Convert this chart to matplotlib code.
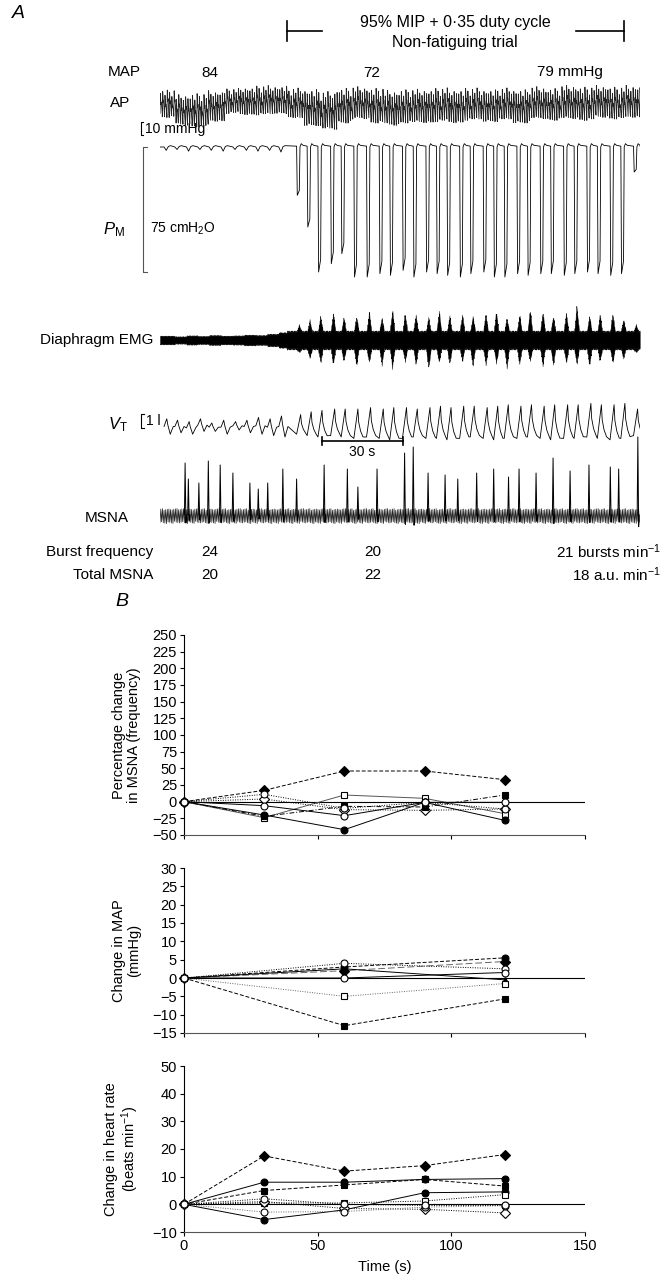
import numpy as np
import matplotlib
matplotlib.use('Agg')
import matplotlib.pyplot as plt
from matplotlib.transforms import blended_transform_factory

plt.rcParams['font.family'] = ['Liberation Sans', 'DejaVu Sans']
plt.rcParams['mathtext.fontset'] = 'custom'
plt.rcParams['mathtext.rm'] = 'Liberation Sans'
plt.rcParams['mathtext.it'] = 'Liberation Sans:italic'

W, H = 665, 1277

# ---------------- A: recording (time in s) ----------------
T_END = 177.8
TRIAL_ON, TRIAL_OFF = 47.0, 172.0

# arterial pressure, upper / lower edge per ~6 s segment (mmHg)
ap_sys = [96, 92, 93, 95, 97, 98, 99, 99, 97, 96, 94, 97, 98, 97, 95,
          96, 96, 97, 96, 97, 96, 97, 96, 98, 97, 99, 98, 99, 98, 99]
ap_dia = [77, 71, 70, 74, 80, 79, 79, 80, 76, 71, 68, 73, 76, 73, 71,
          73, 73, 74, 73, 75, 74, 75, 73, 76, 75, 76, 75, 77, 76, 77]

# breath onsets (s)
pre_on = [1.5, 5.5, 9.8, 14.0, 18.2, 22.6, 27.0, 31.2, 35.5, 39.8, 44.0]
trial_on = [50.6, 54.5, 58.5, 63.2, 67.1, 71.8, 76.5, 81.2, 85.1, 89.8,
            93.8, 98.5, 102.4, 106.3, 111.0, 114.9, 119.7, 123.6, 127.5, 132.2,
            136.1, 140.8, 144.7, 149.5, 153.4, 158.1, 162.0, 166.7, 170.7, 175.4]

# mouth pressure dips (cmH2O)
pm_pre = [2, 1.5, 2.5, 1.5, 2, 2.5, 1.5, 2, 2.5, 2, 3]
pm_trial = [29, 48, 75, 70, 64, 78, 78, 76, 77, 74, 78, 75, 76, 77, 78,
            76, 75, 78, 78, 76, 77, 76, 76, 77, 76, 75, 76, 77, 76, 15]

# diaphragm EMG envelope (a.u.)
emg_pre = [0.14, 0.12, 0.15, 0.13, 0.16, 0.14, 0.15, 0.17, 0.16, 0.2, 0.25]
emg_up = [0.5, 0.65, 0.8, 0.9, 0.75, 0.8, 0.95, 0.75, 1.0, 0.9, 0.85, 0.75, 0.95, 0.8, 0.85,
          0.8, 0.9, 0.95, 0.75, 0.85, 1.0, 0.95, 0.8, 0.9, 1.15, 0.8, 0.85, 0.9, 0.7, 0.5]
emg_dn = [0.4, 0.6, 0.75, 0.8, 0.7, 0.85, 0.75, 0.8, 0.9, 0.7, 0.8, 0.95, 0.75, 0.8, 0.7,
          0.85, 0.8, 0.75, 0.9, 0.8, 0.7, 0.85, 0.8, 0.75, 0.8, 0.85, 0.7, 0.75, 0.6, 0.4]
EMG_TONIC = 0.3

# tidal volume (l)
vt_pre_peak = [1.3, 1.2, 1.1, 1.3, 1.0, 1.2, 1.1, 1.2, 1.4, 1.3, 1.5]
vt_pre_trough = [0.2, 0.3, 0.2, 0.4, 0.4, 0.2, 0.5, 0.3, 0.2, 0.1, 0.0]
vt_trial_peak = [1.6, 1.8, 1.9, 2.0, 2.0, 2.0, 2.1, 2.0, 2.1, 2.1, 2.0, 2.1, 2.2, 2.1, 2.2,
                 2.2, 2.1, 2.2, 2.3, 2.2, 2.3, 2.2, 2.3, 2.3, 2.3, 2.4, 2.3, 2.3, 2.4, 2.0]
vt_trial_trough = [0.2, 0.1, 0.0, 0.1, 0.0, -0.1, 0.0, -0.1, -0.2, -0.1, 0.0, -0.1, -0.1, -0.2, -0.1,
                   0.0, -0.1, -0.2, -0.1, -0.1, 0.0, -0.1, -0.2, -0.1, -0.1, 0.0, -0.1, -0.2, -0.1, 0.1]

# MSNA bursts: time (s) and height (a.u.)
msna_burst_t = [9.3, 10.5, 14.4, 17.9, 22.3, 27.0, 33.3, 36.4, 39.9, 45.5, 50.6, 60.8,
                69.4, 73.3, 80.4, 90.6, 93.8, 99.3, 105.6, 110.3, 117.3, 123.6, 129.1,
                133.0, 139.3, 145.6, 151.9, 158.9, 166.8, 169.9, 177.0]
msna_burst_h = [52, 36, 32, 54, 50, 42, 32, 26, 32, 46, 36, 50, 46, 28, 46, 62, 68,
                42, 40, 36, 42, 46, 38, 46, 42, 57, 44, 50, 48, 46, 78]
MSNA_NOISE = (-8, 6)

# texture for the noisy traces
jitter = [0.92, 1.0, 0.85, 1.06, 0.97, 0.8, 1.03, 0.9, 1.08, 0.95, 0.87, 1.0, 0.93]

# ---------------- B: group data ----------------
msna_t = [0, 30, 60, 90, 120]
msna_fd = [0, 17, 46, 46, 33]
msna_oc1 = [0, 11, -10, -1, -11]
msna_oc2 = [0, -6, -21, -1, -1]
msna_os = [0, -24, 10, 5, -18]
msna_fc = [0, -20, -42, -1, -28]
msna_fs = [0, -22, -7, -8, 10]
msna_od = [0, 4, -12, -13, -11]

map_t = [0, 60, 120]
map_fc = [0, 3, 5.5]
map_fd = [0, 2, 4.5]
map_oc1 = [0, 4, 2.5]
map_oc2 = [0, 0, 1.5]
map_ft = [0, 2.5, -0.5]
map_os = [0, -5, -1.5]
map_fs = [0, -13, -5.7]

hr_t = [0, 30, 60, 90, 120]
hr_fd = [0, 17.5, 12, 14, 18]
hr_fc1 = [0, 8, 8, 9, 9.3]
hr_fs = [0, 5, 7, 9, 6.6]
hr_fc2 = [0, -5.5, -2, 4.2, 4.5]
hr_oc1 = [0, 2, 0, -0.4, -0.4]
hr_oc2 = [0, -2.8, -2.6, -1, -0.5]
hr_os = [0, 0.5, 0.5, 1.2, 3.5]
hr_od = [0, 1, -1.5, -1.8, -3.1]


def px_box(x0, y0, x1, y1):
    return [x0 / W, 1 - y1 / H, (x1 - x0) / W, (y1 - y0) / H]


fig = plt.figure(figsize=(W / 100, H / 100), dpi=100)

ann = fig.add_axes([0, 0, 1, 1])
ann.set_xlim(0, W)
ann.set_ylim(H, 0)
ann.axis('off')


def trace_axes(y0, y1, ylim):
    ax = fig.add_axes(px_box(160, y0, 640, y1))
    ax.set_xlim(0, T_END)
    ax.set_ylim(*ylim)
    ax.axis('off')
    return ax


ax_ap = trace_axes(85, 132, (65, 101))
ax_pm = trace_axes(140, 295, (-88.8, 4.2))
ax_emg = trace_axes(300, 380, (-1.333, 1.333))
ax_vt = trace_axes(400, 445, (-0.57, 2.64))
ax_ms = trace_axes(430, 530, (-15, 85))

# AP: one upstroke per beat, level taken from segment envelope
seg = T_END / len(ap_sys)
t_ap, y_ap = [], []
for i, b in enumerate(np.arange(0, T_END, 0.85)):
    k = min(int(b // seg), len(ap_sys) - 1)
    pp = ap_sys[k] - ap_dia[k]
    top = ap_dia[k] + pp * jitter[i % 13]
    low = ap_dia[k] + pp * (1 - jitter[(i + 5) % 13]) * 0.6
    t_ap += [b, b + 0.15, b + 0.35, b + 0.45, b + 0.85]
    y_ap += [low, top, top - 0.45 * pp, top - 0.35 * pp, low]
ax_ap.plot(t_ap, y_ap, color='#222222', lw=0.6)
ax_ap.plot([-6.3, -7.2, -7.2, -6.3], [63, 63, 73, 73], color='k', lw=0.8, clip_on=False)

# mouth pressure
t_pm, y_pm = [0.0], [0.0]
for o, d in zip(pre_on, pm_pre):
    t_pm += [o, o + 0.8, o + 1.6, o + 2.4]
    y_pm += [0, -d, 0.3, 0.8]
for o, d in zip(trial_on, pm_trial):
    t_pm += [o, o + 0.25, o + 1.0, o + 1.25, o + 1.7, o + 2.4]
    y_pm += [0.5, -d, -0.9 * d, 0, 2.0, 1.0]
t_pm.append(T_END)
y_pm.append(0.5)
ax_pm.plot(t_pm, y_pm, color='k', lw=0.6)
ax_pm.plot([-4.8, -6.3, -6.3, -4.8], [0, 0, -75, -75], color='#555555', lw=0.8, clip_on=False)

# diaphragm EMG envelope
tg = np.arange(0, T_END, 0.1)
hi = np.zeros_like(tg)
lo = np.zeros_like(tg)
for j, t in enumerate(tg):
    if t < TRIAL_ON:
        k = max([i for i, o in enumerate(pre_on) if o <= t] or [0])
        hi[j] = lo[j] = emg_pre[k]
    else:
        hi[j] = lo[j] = EMG_TONIC
    for o, au, ad in zip(trial_on, emg_up, emg_dn):
        if o <= t <= o + 1.8:
            tri = 1 - abs(t - (o + 0.9)) / 0.9
            hi[j] = max(hi[j], EMG_TONIC + (au - EMG_TONIC) * tri)
            lo[j] = max(lo[j], EMG_TONIC + (ad - EMG_TONIC) * tri)
    hi[j] *= jitter[j % 13]
    lo[j] *= jitter[(j + 6) % 13]
ax_emg.fill_between(tg, -lo, hi, color='k', lw=0.3)

# tidal volume
t_vt, y_vt = [], []
for o, p, tr in zip(pre_on, vt_pre_peak, vt_pre_trough):
    a = p - tr
    t_vt += [o, o + 1.0, o + 1.4, o + 2.3, o + 3.4]
    y_vt += [tr + 0.5 * a, p, p - 0.4 * a, tr, tr + 0.5 * a]
for o, p, tr in zip(trial_on, vt_trial_peak, vt_trial_trough):
    a = p - tr
    t_vt += [o, o + 1.5, o + 1.8, o + 2.5, o + 3.4]
    y_vt += [tr, p, p - 0.45 * a, tr + 0.25 * a, tr + 0.05 * a]
ax_vt.plot(t_vt, y_vt, color='k', lw=0.6)
ax_vt.plot([-6.0, -7.0, -7.0, -6.0], [0.64, 0.64, 1.64, 1.64], color='k', lw=0.8, clip_on=False)

# MSNA
tm = np.arange(0, T_END, 0.3)
ym = [(MSNA_NOISE[1] if i % 2 else MSNA_NOISE[0]) * jitter[i % 13] for i in range(len(tm))]
ax_ms.plot(tm, ym, color='#222222', lw=0.5)
for s, h in zip(msna_burst_t, msna_burst_h):
    ax_ms.plot([s - 0.25, s, s + 0.3, s + 0.5], [0, h, -0.15 * h, 0], color='k', lw=0.7)

# bars in time units
bt_ap = blended_transform_factory(ax_ap.transData, ann.transData)
ann.plot([TRIAL_ON, TRIAL_ON], [21, 41], color='k', lw=1.2, transform=bt_ap)
ann.plot([TRIAL_ON, 60], [31, 31], color='k', lw=1.2, transform=bt_ap)
ann.plot([154, TRIAL_OFF], [31, 31], color='k', lw=1.2, transform=bt_ap)
ann.plot([TRIAL_OFF, TRIAL_OFF], [21, 41], color='k', lw=1.2, transform=bt_ap)
bt_ms = blended_transform_factory(ax_ms.transData, ann.transData)
ann.plot([60, 90], [441, 441], color='k', lw=1.2, transform=bt_ms)
ann.plot([60, 60], [437, 445], color='k', lw=1.2, transform=bt_ms)
ann.plot([90, 90], [437, 445], color='k', lw=1.2, transform=bt_ms)

# labels for A
fs = 11
ann.text(12, 14, 'A', fontsize=14, style='italic', va='center')
ann.text(455, 22, '95% MIP + 0·35 duty cycle', fontsize=11.5, ha='center', va='center')
ann.text(455, 43, 'Non-fatiguing trial', fontsize=11.5, ha='center', va='center')
ann.text(108, 72, 'MAP', fontsize=fs, va='center')
ann.text(210, 73, '84', fontsize=fs, ha='center', va='center')
ann.text(372, 73, '72', fontsize=fs, ha='center', va='center')
ann.text(537, 72, '79 mmHg', fontsize=fs, va='center')
ann.text(110, 103, 'AP', fontsize=fs, va='center')
ann.text(145, 129, '10 mmHg', fontsize=10, va='center')
ann.text(103, 230, r'$\mathit{P}_{\mathrm{M}}$', fontsize=12, va='center')
ann.text(150, 229, r'75 cmH$_2$O', fontsize=10, va='center')
ann.text(40, 340, 'Diaphragm EMG', fontsize=fs, va='center')
ann.text(108, 425, r'$\mathit{V}_{\mathrm{T}}$', fontsize=12, va='center')
ann.text(146, 421, '1 l', fontsize=10, va='center')
ann.text(362, 452, '30 s', fontsize=10, ha='center', va='center')
ann.text(85, 518, 'MSNA', fontsize=fs, va='center')
ann.text(153, 552, 'Burst frequency', fontsize=fs, ha='right', va='center')
ann.text(210, 552, '24', fontsize=fs, ha='center', va='center')
ann.text(373, 552, '20', fontsize=fs, ha='center', va='center')
ann.text(661, 552, r'21 bursts min$^{-1}$', fontsize=fs, ha='right', va='center')
ann.text(153, 575, 'Total MSNA', fontsize=fs, ha='right', va='center')
ann.text(210, 575, '20', fontsize=fs, ha='center', va='center')
ann.text(373, 575, '22', fontsize=fs, ha='center', va='center')
ann.text(661, 575, r'18 a.u. min$^{-1}$', fontsize=fs, ha='right', va='center')
ann.text(115, 601, 'B', fontsize=14, style='italic', va='center')

# ---------------- B panels ----------------
DASH, DOT, SOLID, DASHDOT = (0, (4, 2)), (0, (1, 1.5)), '-', (0, (5, 2, 1, 2))


def series(ax, x, y, marker, filled, ls, color='k'):
    ax.plot(x, y, linestyle=ls, color=color, lw=0.7, marker=marker, ms=5,
            mfc='k' if filled else 'white', mec='k', mew=0.8, clip_on=False, zorder=3)


def style_panel(ax, ylim, yticks, ylabel, last=False):
    ax.set_xlim(0, 150)
    ax.set_ylim(*ylim)
    ax.set_yticks(yticks)
    ax.set_xticks([0, 50, 100, 150])
    ax.spines['top'].set_visible(False)
    ax.spines['right'].set_visible(False)
    ax.spines['left'].set_linewidth(0.8)
    ax.spines['bottom'].set_linewidth(0.8)
    ax.spines['bottom'].set_color('#555555')
    ax.tick_params(direction='out', length=3, width=0.8, labelsize=10.5, pad=2)
    ax.axhline(0, color='k', lw=0.8, zorder=2)
    ax.set_ylabel(ylabel, fontsize=10.5, labelpad=8, linespacing=1.1)
    ax.patch.set_visible(False)
    if last:
        ax.set_xlabel('Time (s)', fontsize=10.5, labelpad=5)
    else:
        ax.tick_params(axis='x', labelbottom=False)


ax1 = fig.add_axes(px_box(184, 635, 585, 835))
style_panel(ax1, (-50, 250), range(-50, 251, 25), 'Percentage change\nin MSNA (frequency)')
series(ax1, msna_t, msna_fd, 'D', True, DASH)
series(ax1, msna_t, msna_od, 'D', False, DOT)
series(ax1, msna_t, msna_os, 's', False, SOLID, '#555555')
series(ax1, msna_t, msna_fc, 'o', True, SOLID)
series(ax1, msna_t, msna_fs, 's', True, DASHDOT)
series(ax1, msna_t, msna_oc1, 'o', False, DOT)
series(ax1, msna_t, msna_oc2, 'o', False, SOLID)

ax2 = fig.add_axes(px_box(184, 868, 585, 1033))
style_panel(ax2, (-15, 30), range(-15, 31, 5), 'Change in MAP\n(mmHg)')
series(ax2, map_t, map_fc, 'o', True, DASH)
series(ax2, map_t, map_fd, 'D', True, (0, (7, 3)), '#666666')
series(ax2, map_t, map_ft, '^', True, SOLID)
series(ax2, map_t, map_os, 's', False, DOT, '#666666')
series(ax2, map_t, map_fs, 's', True, DASH)
series(ax2, map_t, map_oc1, 'o', False, DOT)
series(ax2, map_t, map_oc2, 'o', False, SOLID)

ax3 = fig.add_axes(px_box(184, 1066, 585, 1232))
style_panel(ax3, (-10, 50), range(-10, 51, 10), 'Change in heart rate\n(beats min$^{-1}$)', last=True)
series(ax3, hr_t, hr_fd, 'D', True, DASH)
series(ax3, hr_t, hr_fc1, 'o', True, SOLID)
series(ax3, hr_t, hr_fs, 's', True, DASH)
series(ax3, hr_t, hr_fc2, 'o', True, SOLID)
series(ax3, hr_t, hr_os, 's', False, DOT)
series(ax3, hr_t, hr_od, 'D', False, DOT)
series(ax3, hr_t, hr_oc2, 'o', False, DOT, '#666666')
series(ax3, hr_t, hr_oc1, 'o', False, DOT)

fig.savefig('out.png', dpi=100)
